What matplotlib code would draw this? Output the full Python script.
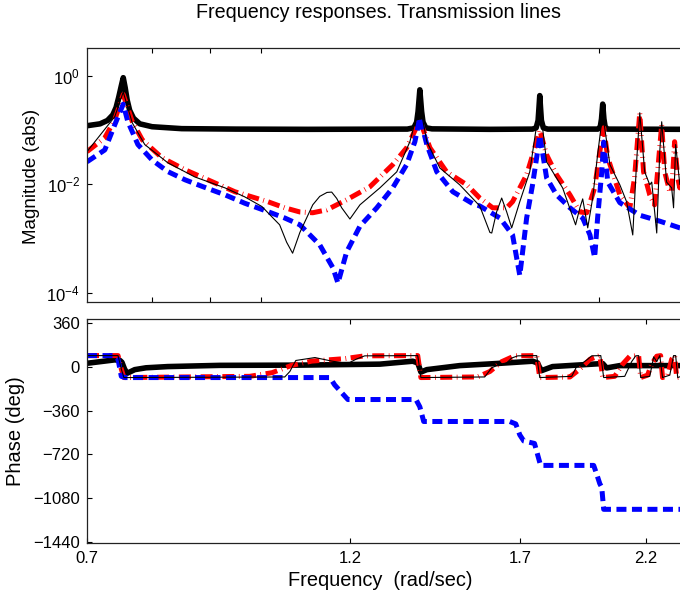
import matplotlib
matplotlib.use("Agg")
import matplotlib.pyplot as plt
from matplotlib.ticker import FixedLocator, NullLocator, NullFormatter, FixedFormatter, LogFormatterSciNotation

plt.rcParams['font.family'] = ['Liberation Sans', 'DejaVu Sans']
plt.rcParams['mathtext.fontset'] = 'custom'
plt.rcParams['mathtext.rm'] = 'Liberation Sans'

# ---------------- data ----------------
# thick black solid
blk_mag_f = [0.700, 0.719, 0.730, 0.738, 0.743, 0.747, 0.751, 0.754, 0.757, 0.760, 0.764, 0.770,
             0.780, 0.800, 0.850, 0.950, 1.100, 1.350, 1.368, 1.376, 1.380, 1.383, 1.385, 1.387,
             1.390, 1.394, 1.402, 1.420, 1.600, 1.745, 1.758, 1.765, 1.768, 1.771, 1.774, 1.777,
             1.784, 1.800, 1.995, 2.005, 2.010, 2.015, 2.020, 2.025, 2.035, 2.40]
blk_mag = [0.12, 0.13, 0.15, 0.19, 0.26, 0.40, 0.65, 0.92, 0.60, 0.36, 0.23, 0.165,
           0.13, 0.115, 0.106, 0.104, 0.103, 0.104, 0.11, 0.14, 0.22, 0.38, 0.55, 0.38,
           0.22, 0.14, 0.11, 0.105, 0.103, 0.104, 0.11, 0.15, 0.25, 0.43, 0.25, 0.15,
           0.11, 0.104, 0.104, 0.115, 0.16, 0.30, 0.16, 0.115, 0.104, 0.103]
blk_ph_f = [0.700, 0.741, 0.749, 0.752, 0.756, 0.760, 0.772, 0.790, 0.826, 0.919, 1.083, 1.276,
            1.365, 1.379, 1.384, 1.388, 1.405, 1.503, 1.621, 1.745, 1.763, 1.770, 1.778, 1.818,
            1.990, 2.015, 2.031, 2.087, 2.40]
blk_ph = [27, 55, 50, 35, -20, -55, -25, -10, 0, 10, 12, 20,
          44, 30, -10, -45, -25, 8, 25, 44, 30, -5, -33, 0,
          22, 25, -11, 8, 8]

# blue dashed
blu_mag_f = [0.700, 0.726, 0.741, 0.754, 0.761, 0.777, 0.800, 0.826, 0.856, 0.886, 0.929, 0.967,
             1.008, 1.050, 1.083, 1.128, 1.159, 1.171, 1.192, 1.225, 1.268, 1.310, 1.348, 1.371,
             1.385, 1.405, 1.434, 1.482, 1.544, 1.566, 1.632, 1.675, 1.700, 1.724, 1.745, 1.763,
             1.771, 1.796, 1.833, 1.884, 1.934, 1.963, 1.982, 1.994, 2.011, 2.019, 2.036, 2.087,
             2.174, 2.265, 2.360, 2.40]
blu_mag = [0.026, 0.043, 0.125, 0.30, 0.144, 0.054, 0.028, 0.0172, 0.0121, 0.0092, 0.0064, 0.0045,
           0.0033, 0.0024, 0.0018, 0.00077, 0.00029, 0.000152, 0.00057, 0.0017, 0.0037, 0.0086, 0.023, 0.061,
           0.17, 0.054, 0.017, 0.0073, 0.0044, 0.0040, 0.0024, 0.00117, 0.00021, 0.0024, 0.0098, 0.04,
           0.08, 0.0132, 0.0064, 0.0037, 0.0024, 0.00117, 0.00045, 0.0024, 0.017, 0.06, 0.011, 0.0046,
           0.0027, 0.0021, 0.00158, 0.0015]
blu_ph_f = [0.700, 0.741, 0.746, 0.751, 0.757, 1.152, 1.163, 1.195, 1.374, 1.385, 1.396, 1.665,
            1.686, 1.700, 1.714, 1.752, 1.763, 1.774, 1.978, 1.990, 2.003, 2.011, 2.019, 2.40]
blu_ph = [90, 90, 60, -80, -90, -90, -150, -270, -270, -330, -450, -450,
          -470, -560, -610, -630, -720, -810, -810, -880, -960, -990, -1170, -1170]

# red dash-dot
red_mag_f = [0.700, 0.726, 0.741, 0.754, 0.768, 0.784, 0.816, 0.856, 0.897, 0.948, 1.014, 1.050,
             1.083, 1.112, 1.145, 1.192, 1.250, 1.310, 1.348, 1.385, 1.414, 1.463, 1.525, 1.566,
             1.608, 1.655, 1.675, 1.724, 1.753, 1.771, 1.796, 1.833, 1.884, 1.923, 1.950, 1.982,
             2.003, 2.019, 2.036, 2.087, 2.130, 2.151, 2.174, 2.191, 2.219, 2.241, 2.255, 2.274,
             2.288, 2.312, 2.321, 2.335, 2.350, 2.360, 2.38]
red_mag = [0.040, 0.072, 0.155, 0.45, 0.144, 0.066, 0.031, 0.0185, 0.0121, 0.0073, 0.0048, 0.0037,
           0.0031, 0.0030, 0.0034, 0.0052, 0.0090, 0.023, 0.047, 0.15, 0.047, 0.017, 0.0098, 0.0056,
           0.0037, 0.0037, 0.0048, 0.0150, 0.047, 0.10, 0.035, 0.015, 0.0064, 0.0031, 0.0030, 0.0086,
           0.04, 0.11, 0.031, 0.0064, 0.0037, 0.0132, 0.208, 0.017, 0.0064, 0.0042, 0.017, 0.125,
           0.017, 0.0073, 0.0073, 0.061, 0.0132, 0.0086, 0.02]
red_ph_f = [0.700, 0.746, 0.751, 0.755, 0.977, 1.023, 1.065, 1.110, 1.187, 1.237, 1.379, 1.388,
            1.559, 1.599, 1.638, 1.682, 1.760, 1.771, 1.884, 1.923, 1.963, 2.003, 2.015, 2.065,
            2.099, 2.130, 2.169, 2.178, 2.209, 2.228, 2.251, 2.269, 2.278, 2.302, 2.321, 2.335,
            2.345, 2.40]
red_ph = [90, 90, -20, -90, -80, -50, 10, 45, 65, 88, 90, -90,
          -85, -40, 40, 88, 90, -90, -85, -20, 60, 90, -90, -80,
          20, 85, 90, -90, -70, 20, 85, 90, -90, -70, 60, 90,
          -90, -70]

# thin black solid
thn_mag_f = [0.700, 0.741, 0.754, 0.768, 0.788, 0.826, 0.873, 0.929, 0.967, 1.002, 1.025, 1.039,
             1.054, 1.067, 1.083, 1.112, 1.128, 1.145, 1.156, 1.168, 1.180, 1.200, 1.225, 1.276,
             1.321, 1.357, 1.385, 1.405, 1.443, 1.503, 1.566, 1.599, 1.605, 1.621, 1.638, 1.655,
             1.672, 1.700, 1.735, 1.771, 1.796, 1.856, 1.906, 1.923, 1.934, 1.954, 1.974, 1.994,
             2.015, 2.045, 2.087, 2.116, 2.143, 2.160, 2.174, 2.196, 2.219, 2.228, 2.251, 2.265,
             2.274, 2.297, 2.321, 2.330, 2.340, 2.360]
thn_mag = [0.040, 0.176, 0.5, 0.136, 0.054, 0.025, 0.0137, 0.0086, 0.0059, 0.0039, 0.0024, 0.0018,
           0.00086, 0.00054, 0.0013, 0.0042, 0.0060, 0.0071, 0.0072, 0.0055, 0.0037, 0.0023, 0.0042, 0.0086,
           0.017, 0.061, 0.30, 0.061, 0.020, 0.0098, 0.0040, 0.0013, 0.00127, 0.0031, 0.0056, 0.0031,
           0.00158, 0.0048, 0.017, 0.3, 0.026, 0.0086, 0.0018, 0.0037, 0.0054, 0.00158, 0.0056, 0.035,
           0.2, 0.023, 0.0098, 0.0048, 0.00117, 0.026, 0.208, 0.017, 0.0098, 0.011, 0.00127, 0.04,
           0.142, 0.011, 0.0086, 0.0037, 0.054, 0.01]
thn_ph_f = [0.700, 0.746, 0.751, 0.755, 1.050, 1.061, 1.074, 1.117, 1.156, 1.195, 1.215, 1.237,
            1.379, 1.388, 1.582, 1.605, 1.632, 1.655, 1.672, 1.693, 1.760, 1.771, 1.891, 1.910,
            1.934, 1.954, 1.970, 2.007, 2.019, 2.108, 2.138, 2.156, 2.169, 2.178, 2.219, 2.237,
            2.251, 2.265, 2.278, 2.312, 2.330, 2.340, 2.350, 2.40]
thn_ph = [90, 90, -20, -90, -85, -40, 50, 74, 45, 25, 60, 88,
          90, -90, -85, -10, 20, 30, 70, 88, 90, -90, -80, 0,
          30, 60, 88, 90, -90, -80, 40, 88, 90, -90, -80, 80,
          40, 90, -90, -70, 90, 90, -90, -60]

x_ticks = [0.7, 1.2, 1.7, 2.2]
x_ticklabels = ['0.7', '1.2', '1.7', '2.2']
mag_ticks = [1e-4, 1e-2, 1e0]
ph_ticks = [-1440, -1080, -720, -360, 0, 360]

# ---------------- figure ----------------
W, H = 680, 596
fig = plt.figure(figsize=(W / 100, H / 100), dpi=100)
ax1 = fig.add_axes([87 / W, 1 - 302 / H, (688 - 87) / W, (302 - 48) / H])
ax2 = fig.add_axes([87 / W, 1 - 543 / H, (688 - 87) / W, (543 - 319) / H])

thick = dict(color='black', lw=4.0, solid_capstyle='butt')
blue = dict(color=(0, 0, 1), lw=3.6, linestyle=(0, (2.0, 1.1)), dash_capstyle='butt')
red = dict(color=(1, 0, 0), lw=3.6, linestyle=(0, (2.4, 0.9, 0.15, 0.9)), dash_capstyle='butt')
thin = dict(color='black', lw=0.8)

ax1.plot(blk_mag_f, blk_mag, **thick)
ax1.plot(red_mag_f, red_mag, **red)
ax1.plot(blu_mag_f, blu_mag, **blue)
ax1.plot(thn_mag_f, thn_mag, **thin)

ax2.plot(blk_ph_f, blk_ph, **thick)
ax2.plot(red_ph_f, red_ph, **red)
ax2.plot(blu_ph_f, blu_ph, **blue)
ax2.plot(thn_ph_f, thn_ph, **thin)

for ax in (ax1, ax2):
    ax.set_xscale('log')
    ax.set_xlim(0.7, 2.40)
    ax.xaxis.set_minor_locator(NullLocator())
    ax.yaxis.set_minor_locator(NullLocator())
    ax.tick_params(which='both', direction='in', top=True, right=True,
                   length=3.6, width=0.8, labelsize=12, pad=5)
    for s in ax.spines.values():
        s.set_linewidth(0.9)
        s.set_color('#222222')

ax1.set_yscale('log')
ax1.set_ylim(10 ** -4.166, 10 ** 0.51)
ax1.yaxis.set_major_locator(FixedLocator(mag_ticks))
ax1.yaxis.set_major_formatter(LogFormatterSciNotation())
ax1.yaxis.set_minor_locator(NullLocator())
ax1.xaxis.set_major_locator(FixedLocator([0.8, 0.9, 1.0, 2.0]))
ax1.xaxis.set_major_formatter(NullFormatter())

ax2.set_ylim(-1446, 390)
ax2.yaxis.set_major_locator(FixedLocator(ph_ticks))
ax2.xaxis.set_major_locator(FixedLocator(x_ticks))
ax2.xaxis.set_major_formatter(FixedFormatter(x_ticklabels))
ax2.tick_params(axis='x', pad=6)

fig.text(378 / W, 1 - 12 / H, 'Frequency responses. Transmission lines',
         ha='center', va='center', fontsize=14.2)
fig.text(32 / W, 1 - 176 / H, 'Magnitude (abs)', rotation=90,
         ha='center', va='center', fontsize=13.5)
fig.text(16 / W, 1 - 431 / H, 'Phase (deg)', rotation=90,
         ha='center', va='center', fontsize=14.5)
fig.text(380 / W, 1 - 580 / H, 'Frequency  (rad/sec)',
         ha='center', va='center', fontsize=14.4)

fig.savefig('out.png', dpi=100)
